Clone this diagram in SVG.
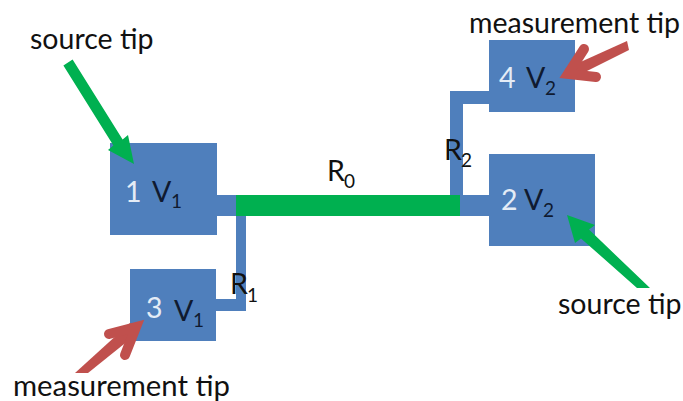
<svg xmlns="http://www.w3.org/2000/svg" width="683" height="401" viewBox="0 0 683 401">
<style>
.n{fill:#4f7fbc}
.g{fill:#00b050}
.rf{fill:#c0504d}
.r{fill:none;stroke:#c0504d;stroke-width:10;stroke-linecap:round;stroke-linejoin:miter}
text{font-family:"Lato","Liberation Sans",sans-serif;font-size:28.5px;fill:#111}
.w{fill:#e4ecf6}
.d{fill:#0f1a30}
.s{font-size:19px}
.b{font-size:29.300px}
</style>
<rect width="683" height="401" fill="#fff"/>
<g id="connectors">
<path class="n" d="M217 195H246V311H216V299H236V216H217Z"/>
<path class="n" d="M450 91H489V104H463V195H489V216H460V195H450Z"/>
<rect class="g" x="236" y="195" width="224" height="21"/>
</g>
<g id="node-1"><rect class="n" x="110" y="143" width="107" height="92"/>
<text class="w" x="125" y="202">1</text><text class="d" x="152" y="202">V</text><text class="d s" x="171" y="208">1</text></g>
<g id="node-3"><rect class="n" x="130" y="269" width="86" height="72"/>
<text class="w" x="146" y="318">3</text><text class="d" x="174" y="321">V</text><text class="d s" x="193" y="327">1</text></g>
<g id="node-4"><rect class="n" x="489" y="40" width="86" height="72"/>
<text class="w" x="499" y="88">4</text><text class="d" x="526" y="88">V</text><text class="d s" x="545" y="95">2</text></g>
<g id="node-2"><rect class="n" x="489" y="154" width="106" height="92"/>
<text class="w" x="501" y="210">2</text><text class="d" x="524" y="210">V</text><text class="d s" x="543" y="217">2</text></g>
<g id="arrows">
<path class="g" d="M63.400 65.500L72.600 59.500L122.600 139.500L128 135L134 164L108 150L113.400 145.500Z"/>
<path class="g" d="M567 215L595 225L589 229.600L650 288H637L581 238.400L575 243Z"/>
<path class="rf" d="M75 373H88L139 332L130 323Z"/>
<path class="r" d="M109 334L136 327L125 355"/>
<path class="rf" d="M627 41L629 50L571 79L565 69Z"/>
<path class="r" d="M584 49L568 74L596 77"/>
</g>
<g id="labels">
<text x="30" y="49">source tip</text>
<text x="558" y="314">source tip</text>
<text x="469" y="33">measurement tip</text>
<text class="b" x="13" y="396">measurement tip</text>
<text x="327" y="181">R</text><text class="s" x="344" y="188">0</text>
<text x="230" y="294">R</text><text class="s" x="247" y="302">1</text>
<text x="444" y="160">R</text><text class="s" x="461" y="167">2</text>
</g>
</svg>
